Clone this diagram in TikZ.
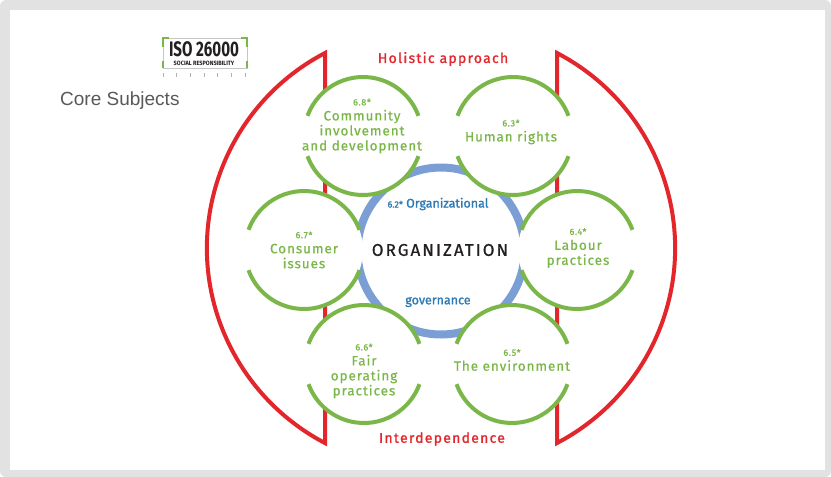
\documentclass[tikz,border=0pt]{standalone}
\usepackage{fontspec}
\usepackage{graphicx}
\setmainfont{Fira Sans}
\newfontfamily\labf[LetterSpace=7,FakeBold=0.6]{Fira Sans}
\newfontfamily\orgf[LetterSpace=12,FakeBold=0.8]{Fira Sans}
\newfontfamily\redf[LetterSpace=9,FakeBold=1.2]{Fira Sans}
\newfontfamily\bluf[FakeBold=1.2]{Fira Sans}
\newfontfamily\arialf{Liberation Sans}
\definecolor{sgreen}{HTML}{7AB648}
\definecolor{sred}{HTML}{E2262C}
\definecolor{sblue}{HTML}{7B9ED4}
\definecolor{sbluetext}{HTML}{2D7AB5}
\definecolor{sdark}{HTML}{231F20}
\definecolor{sgray}{HTML}{595959}
\definecolor{frameg}{HTML}{E2E2E2}
\begin{document}
\begin{tikzpicture}[x=1pt,y=-1pt,
  gfill/.style={fill=white},
  garc/.style={draw=sgreen,line width=4},
  glab/.style={text=sgreen,align=center,inner sep=0pt,font=\labf\fontsize{13.5}{15}\selectfont},
  rlab/.style={text=sred,inner sep=0pt,font=\redf\fontsize{14}{16}\selectfont},
  blab/.style={text=sbluetext,inner sep=0pt,font=\bluf\fontsize{12.5}{14}\selectfont},
  dshape/.style={draw=sred,line width=4,line join=miter},
  tick/.style={draw=gray!60,line width=0.8}]
\useasboundingbox (0,0) rectangle (831,477);
% frame
\fill[frameg,rounded corners=6] (0,0) rectangle (831,477);
\fill[white] (10,10) rectangle (825,470);
% red D shapes
\draw[dshape] (325,53) arc[start angle=242.4,end angle=117.6,radius=220.07] -- cycle;
\draw[dshape] (557,53) arc[start angle=-62.4,end angle=62.4,radius=220.07] -- cycle;
% blue ring
\coordinate (org) at (441,251);
\draw[sblue,line width=8] (org) circle[radius=83.5];
% circle centres
\coordinate (c68) at (363,136);
\coordinate (c63) at (513,136);
\coordinate (c67) at (304,250);
\coordinate (c64) at (577,250);
\coordinate (c66) at (364,364);
\coordinate (c65) at (512,364);
\foreach \c in {c68,c63,c67,c64,c66,c65}{
  \fill[gfill] (\c) circle[radius=59];
}
\foreach \c in {c68,c63,c67,c64,c66,c65}{
  \draw[garc] (\c) ++(20:59) arc[start angle=20,end angle=160,radius=59];
  \draw[garc] (\c) ++(200:59) arc[start angle=200,end angle=340,radius=59];
}
% labels
\node[glab] (t68) at (362,126) {{\fontsize{9}{15}\selectfont 6.8*}\\Community\\involvement\\and development};
\node[glab] (t63) at (511,132) {{\fontsize{9}{15}\selectfont 6.3*}\\Human rights};
\node[glab] (t67) at (304,250) {{\fontsize{9}{15}\selectfont 6.7*}\\Consumer\\issues};
\node[glab] (t64) at (578,248) {{\fontsize{9}{15}\selectfont 6.4*}\\Labour\\practices};
\node[glab] (t66) at (364,371) {{\fontsize{9}{15}\selectfont 6.6*}\\Fair\\operating\\practices};
\node[glab] (t65) at (512,360) {{\fontsize{9}{15}\selectfont 6.5*}\\The environment};
\node[text=sdark,inner sep=0pt,font=\orgf\fontsize{17}{20}\selectfont] (orgt) at (440,250) {ORGANIZATION};
\node[blab] (gov1) at (438,204) {{\fontsize{9}{14}\selectfont 6.2*} Organizational};
\node[blab] (gov2) at (438,302) {governance};
\node[rlab] (hol) at (443,59) {Holistic approach};
\node[rlab] (int) at (442,439) {Interdependence};
% core subjects
\node[text=sgray,anchor=west,inner sep=0pt,font=\arialf\fontsize{19}{22}\selectfont] (core) at (60,101) {Core Subjects};
% ISO logo
\draw[gray!45,line width=0.6] (163,38) rectangle (247,68);
\draw[sgreen,line width=1.4] (163,47) -- (163,38) -- (169,38);
\draw[sgreen,line width=1.4] (163,61) -- (163,68);
\draw[sgreen,line width=1.4] (247,47) -- (247,38) -- (241,38);
\draw[sgreen,line width=1.4] (247,61) -- (247,68);
\node[inner sep=0pt,text=sdark] (iso) at (204,49.5) {\scalebox{0.72}[1]{\fontsize{21}{22}\selectfont\bfseries ISO 26000}};
\node[inner sep=0pt,text=sdark] (isosub) at (204,63.5) {\scalebox{0.9}[1]{\fontsize{6.2}{6.5}\selectfont\bfseries SOCIAL RESPONSIBILITY}};
\foreach \x in {163,176.7,190.3,204,217.7,231.3,245}{
  \draw[tick] (\x,73) -- (\x,77);
}
\end{tikzpicture}
\end{document}
